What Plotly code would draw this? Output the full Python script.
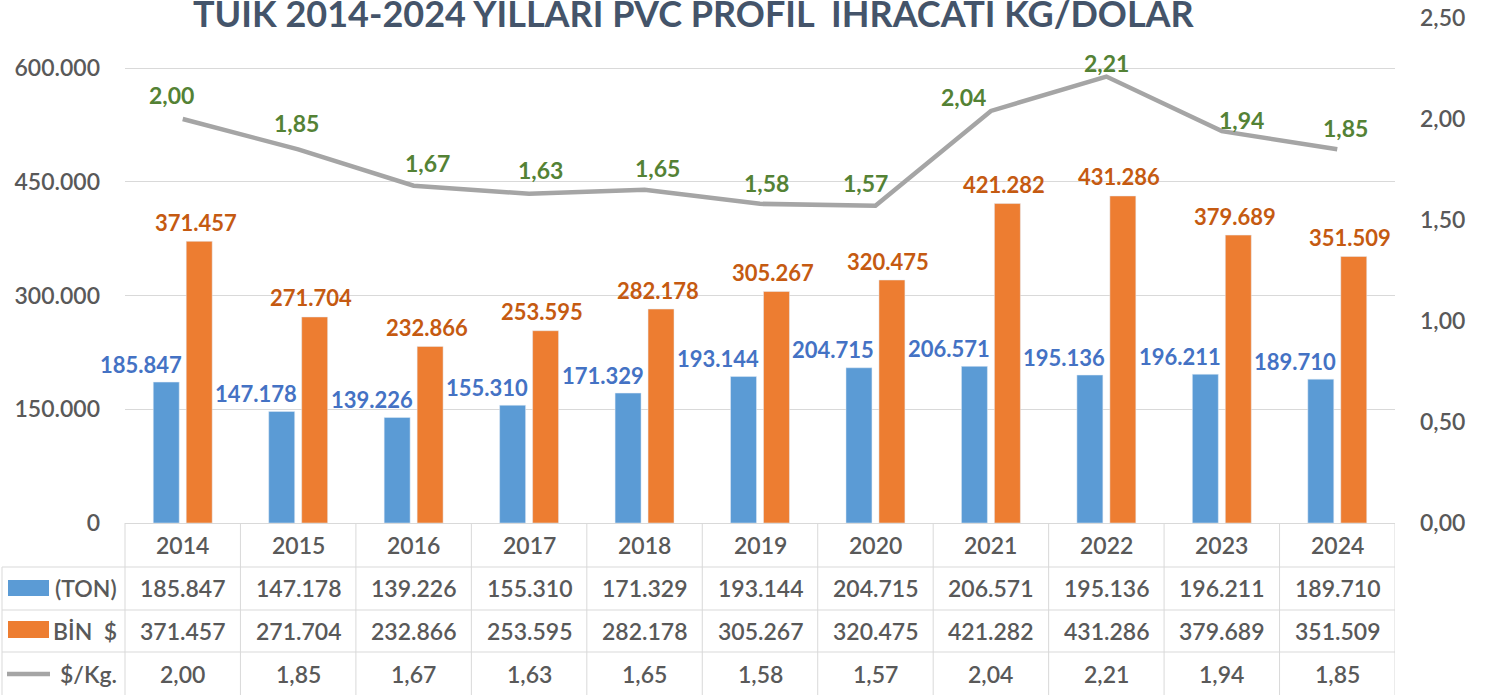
import plotly.graph_objects as go

# ---------------- data ----------------
years = [2014, 2015, 2016, 2017, 2018, 2019, 2020, 2021, 2022, 2023, 2024]
ton = [185847, 147178, 139226, 155310, 171329, 193144, 204715, 206571, 195136, 196211, 189710]
bin_usd = [371457, 271704, 232866, 253595, 282178, 305267, 320475, 421282, 431286, 379689, 351509]
usd_per_kg = [2.00, 1.85, 1.67, 1.63, 1.65, 1.58, 1.57, 2.04, 2.21, 1.94, 1.85]

row_names = ["(TON)", "BİN  $", "$/Kg."]
title_text = "TÜİK 2014-2024 YILLARI PVC PROFİL  İHRACATI KG/DOLAR"

# label nudges (pixels) for the line labels, as placed in the original
line_lbl_dx = [-11, -2, 14, 11, 13, 6, -10, -27, 0, 20, 8]
line_lbl_dy = [24, 26, 23, 24, 22, 21, 23, 14, 14, 11, 21]

# ---------------- style ----------------
W, H = 1486, 695
PL, PR, PT, PB = 125, 1395, 18, 523
FONT = "Lato, 'Open Sans', sans-serif"
C_BLUE, C_ORANGE, C_GRAY = "#5B9BD5", "#ED7D31", "#A5A5A5"
C_BLUE_T, C_ORANGE_T, C_GREEN_T = "#4472C4", "#C55A11", "#548235"
C_TEXT, C_GRID, C_TITLE = "#595959", "#D9D9D9", "#44546A"
TXT_W = 600


def px(X):
    return (X - PL) / (PR - PL)


def py(Y):
    return (PB - Y) / (PB - PT)


def tr_int(v):
    return f"{v:,}".replace(",", ".")


def tr_dec(v):
    return f"{v:.2f}".replace(".", ",")


fig = go.Figure()
fig.add_trace(go.Bar(x=years, y=ton, name="(TON)", marker_color=C_BLUE, yaxis="y"))
fig.add_trace(go.Bar(x=years, y=bin_usd, name="BİN $", marker_color=C_ORANGE, yaxis="y"))
fig.add_trace(go.Scatter(x=years, y=usd_per_kg, name="$/Kg.", mode="lines",
                         line=dict(color=C_GRAY, width=4.5), yaxis="y2"))

ann = []
# bar labels
for yr, v in zip(years, ton):
    ann.append(dict(x=yr, y=v, xref="x", yref="y", text=tr_int(v), showarrow=False,
                    xanchor="right", yanchor="middle", xshift=1, yshift=18,
                    font=dict(family=FONT, size=22, color=C_BLUE_T, weight="bold")))
for yr, v in zip(years, bin_usd):
    ann.append(dict(x=yr, y=v, xref="x", yref="y", text=tr_int(v), showarrow=False,
                    xanchor="center", yanchor="middle", xshift=13, yshift=19,
                    font=dict(family=FONT, size=22, color=C_ORANGE_T, weight="bold")))
for yr, v, dx, dy in zip(years, usd_per_kg, line_lbl_dx, line_lbl_dy):
    ann.append(dict(x=yr, y=v, xref="x", yref="y2", text=tr_dec(v), showarrow=False,
                    xanchor="center", yanchor="middle", xshift=dx, yshift=dy,
                    font=dict(family=FONT, size=23, color=C_GREEN_T, weight="bold")))

# title (top edge touches the frame, as in the original)
ann.append(dict(x=px(694), y=py(13), xref="paper", yref="paper", text=title_text,
                showarrow=False, xanchor="center", yanchor="middle",
                font=dict(family=FONT, size=36, color=C_TITLE, weight="bold")))

# data table
row_y = [py(588), py(631), py(674)]
for yr in years:
    ann.append(dict(x=yr, y=py(545), xref="x", yref="paper", text=str(yr), showarrow=False,
                    xanchor="center", yanchor="middle",
                    font=dict(family=FONT, size=23, color=C_TEXT, weight=TXT_W)))
for yr, a, b, c in zip(years, ton, bin_usd, usd_per_kg):
    for yy, t in zip(row_y, [tr_int(a), tr_int(b), tr_dec(c)]):
        ann.append(dict(x=yr, y=yy, xref="x", yref="paper", text=t, showarrow=False,
                        xanchor="center", yanchor="middle",
                        font=dict(family=FONT, size=23, color=C_TEXT, weight=TXT_W)))
for yy, name in zip(row_y, row_names):
    ann.append(dict(x=px(119), y=yy, xref="paper", yref="paper", text=name, showarrow=False,
                    xanchor="right", yanchor="middle",
                    font=dict(family=FONT, size=23, color=C_TEXT, weight=TXT_W)))

shapes = []
line_style = dict(color=C_GRID, width=1)
for Y in [567, 610, 652]:
    shapes.append(dict(type="line", xref="paper", yref="paper", x0=px(2), x1=1,
                       y0=py(Y), y1=py(Y), line=line_style))
shapes.append(dict(type="line", xref="paper", yref="paper", x0=px(2), x1=px(2),
                   y0=py(567), y1=py(H + 5), line=line_style))
shapes.append(dict(type="line", xref="paper", yref="paper", x0=0, x1=0,
                   y0=0, y1=py(H + 5), line=line_style))
for k in range(len(years)):
    shapes.append(dict(type="line", xref="x", yref="paper", x0=years[k] + 0.5, x1=years[k] + 0.5,
                       y0=0, y1=py(H + 5), line=line_style))
# legend keys in table
shapes.append(dict(type="rect", xref="paper", yref="paper", x0=px(8), x1=px(49),
                   y0=py(596), y1=py(580), fillcolor=C_BLUE, line=dict(width=0)))
shapes.append(dict(type="rect", xref="paper", yref="paper", x0=px(8), x1=px(49),
                   y0=py(638), y1=py(621), fillcolor=C_ORANGE, line=dict(width=0)))
shapes.append(dict(type="line", xref="paper", yref="paper", x0=px(7), x1=px(50),
                   y0=py(674), y1=py(674), line=dict(color=C_GRAY, width=4.5)))

fig.update_layout(
    width=W, height=H,
    margin=dict(l=PL, r=W - PR, t=PT, b=H - PB, pad=0, autoexpand=False),
    paper_bgcolor="white", plot_bgcolor="white",
    barmode="group", bargap=0.429, bargroupgap=0.212,
    showlegend=False,
    separators=",.",
    font=dict(family=FONT, size=23, color=C_TEXT),
    xaxis=dict(range=[years[0] - 0.5, years[-1] + 0.5], showticklabels=False,
               showgrid=False, zeroline=False, showline=True, linecolor=C_GRID,
               linewidth=1, ticks="", automargin=False),
    yaxis=dict(range=[0, 666000], tickvals=[0, 150000, 300000, 450000, 600000],
               tickformat=",.0f", showgrid=True, gridcolor=C_GRID, gridwidth=1,
               zeroline=False, showline=False, ticks="", ticklabelstandoff=24,
               automargin=False,
               tickfont=dict(family=FONT, size=23, color=C_TEXT, weight=TXT_W)),
    yaxis2=dict(range=[0, 2.5], dtick=0.5, tickformat=".2f", overlaying="y", side="right",
                showgrid=False, zeroline=False, showline=False, ticks="",
                ticklabelstandoff=24, automargin=False,
                tickfont=dict(family=FONT, size=23, color=C_TEXT, weight=TXT_W)),
    annotations=ann, shapes=shapes,
)

fig.write_html("out.html", config={"displayModeBar": False},
               post_script="document.body.style.margin='0';")
